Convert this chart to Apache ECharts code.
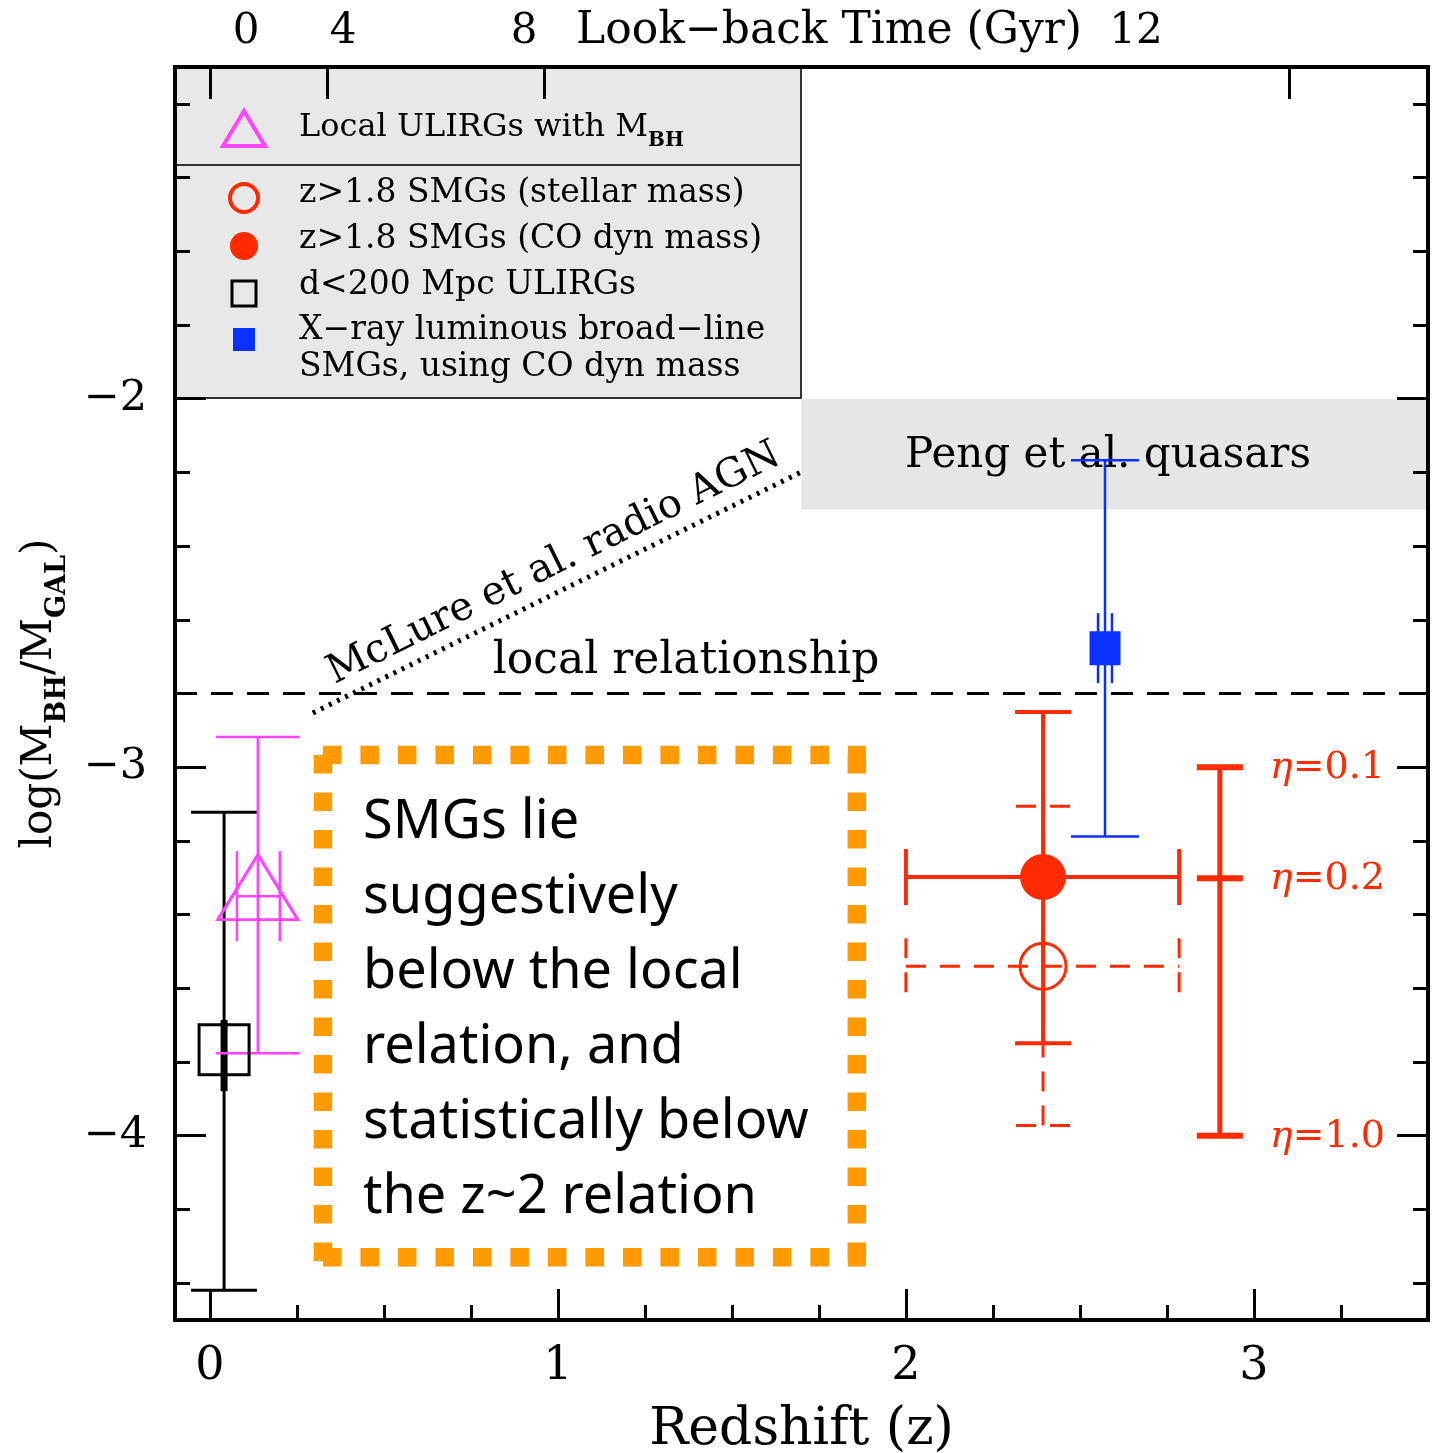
<!DOCTYPE html>
<html>
<head>
<meta charset="utf-8">
<title>Black hole to galaxy mass ratio versus redshift</title>
<script src="https://cdn.jsdelivr.net/npm/echarts@6/dist/echarts.min.js"></script>
<style>
  html, body { margin: 0; padding: 0; background: #ffffff; }
  #chart { width: 1435px; height: 1453px; }
</style>
</head>
<body>
<div id="chart"></div>
<script>
// ---------------- axis ticks ----------------
const zMajorTicks = [0, 1, 2, 3];
const zMinorTicks = [0.25, 0.5, 0.75, 1.25, 1.5, 1.75, 2.25, 2.5, 2.75, 3.25];
const yMajorTicks = [-4, -3, -2];
const yMinorTicks = [-4.4, -4.2, -3.8, -3.6, -3.4, -3.2, -2.8, -2.6, -2.4, -2.2, -1.8, -1.6, -1.4, -1.2];
// look-back time (Gyr) and the redshift each tick sits at
const lookbackLabels = ['0', '4', '8', '12'];
const lookbackTickZ = [0, 0.337, 0.960, 3.101];

// ---------------- reference relations ----------------
const localRelation = -2.8;                       // log(M_BH/M_gal) of the local relation
const localLine = [[-0.1, localRelation], [3.5, localRelation]];
const mcLureLine = [[0.296, -2.853], [1.710, -2.194]];
const pengBand = [[1.7, -2.3, 3.5, -2.0]];        // z range, log ratio range
const smgBox = [[0.325, -2.967, 1.859, -4.330]];

// ---------------- measurements ----------------
// d<200 Mpc ULIRGs
const d200 = [[0.041, -3.767]];
const d200ErrY = [[0.041, -4.419, -3.122]];
const d200CoreErrY = [[0.041, -3.879, -3.686]];
// local ULIRGs with M_BH
const ulirgBH = [[0.138, -3.350]];
const ulirgBHErrY = [[0.138, -3.776, -2.918]];
const ulirgBHErrX = [[-3.350, 0.078, 0.201]];
// z>1.8 SMGs, CO dynamical mass
const smgCO = [[2.394, -3.298]];
const smgCOErrY = [[2.394, -3.749, -2.850]];
const smgCOErrX = [[-3.298, 2.0, 2.785]];
// z>1.8 SMGs, stellar mass
const smgStellar = [[2.394, -3.540]];
const smgStellarErrY = [[2.394, -3.972, -3.106]];
const smgStellarErrX = [[-3.540, 2.0, 2.785]];
// X-ray luminous broad-line SMGs
const xray = [[2.572, -2.677]];
const xrayErrY = [[2.572, -3.188, -2.167]];
const xrayErrX = [[-2.677, 2.552, 2.592]];
// radiative efficiency scale
const etaZ = 2.902;
const etaValues = [-3.0, -3.301, -4.0];
const etaLabels = ['0.1', '0.2', '1.0'];
const etaRange = [[etaZ, -4.0, -3.0]];

// ---------------- styling ----------------
const SERIF = '"DejaVu Serif", serif';
const HAND = '"Noto Sans", sans-serif';
const RED = '#ff2a00';
const BLUE = '#0a30ff';
const MAG = '#ff44ff';
const ORANGE = '#ff9a00';
const BLACK = '#000000';

const chart = echarts.init(document.getElementById('chart'), null, { renderer: 'canvas' });

function lineStyleOf(color, width, dash) {
  return { stroke: color, lineWidth: width, lineDash: dash || null, fill: null };
}

// vertical error bar: [x, low, high]
function vErr(data, color, width, cap, dash, z) {
  return {
    type: 'custom', data: data, z: z || 3, silent: true, clip: false,
    encode: { x: 0, y: [1, 2] },
    renderItem: function (params, api) {
      const x = api.value(0);
      const a = api.coord([x, api.value(1)]);
      const b = api.coord([x, api.value(2)]);
      const st = lineStyleOf(color, width, dash);
      const ch = [{ type: 'line', shape: { x1: a[0], y1: a[1], x2: b[0], y2: b[1] }, style: st }];
      if (cap) {
        ch.push({ type: 'line', shape: { x1: a[0] - cap, y1: a[1], x2: a[0] + cap, y2: a[1] }, style: st });
        ch.push({ type: 'line', shape: { x1: b[0] - cap, y1: b[1], x2: b[0] + cap, y2: b[1] }, style: st });
      }
      return { type: 'group', children: ch };
    }
  };
}

// horizontal error bar: [y, low, high]
function hErr(data, color, width, cap, dash, z) {
  return {
    type: 'custom', data: data, z: z || 3, silent: true, clip: false,
    encode: { y: 0, x: [1, 2] },
    renderItem: function (params, api) {
      const y = api.value(0);
      const a = api.coord([api.value(1), y]);
      const b = api.coord([api.value(2), y]);
      const st = lineStyleOf(color, width, dash);
      const ch = [{ type: 'line', shape: { x1: a[0], y1: a[1], x2: b[0], y2: b[1] }, style: st }];
      if (cap) {
        ch.push({ type: 'line', shape: { x1: a[0], y1: a[1] - cap, x2: a[0], y2: a[1] + cap }, style: st });
        ch.push({ type: 'line', shape: { x1: b[0], y1: b[1] - cap, x2: b[0], y2: b[1] + cap }, style: st });
      }
      return { type: 'group', children: ch };
    }
  };
}

const tickLine = { color: BLACK, width: 3 };

const option = {
  backgroundColor: '#ffffff',
  animation: false,
  grid: {
    left: 175, top: 67, width: 1253, height: 1253,
    outerBoundsMode: 'none', containLabel: false,
    show: true, borderColor: BLACK, borderWidth: 4, backgroundColor: 'transparent'
  },
  xAxis: [
    {
      type: 'value', min: -0.1, max: 3.5, position: 'bottom',
      axisLine: { show: false, onZero: false },
      splitLine: { show: false },
      axisTick: { show: true, inside: true, length: 31, customValues: zMajorTicks, lineStyle: tickLine },
      axisLabel: {
        show: true, customValues: zMajorTicks, margin: 24,
        fontFamily: SERIF, fontSize: 46, color: BLACK,
        formatter: function (v) { return String(v); }
      },
      name: 'Redshift (z)', nameLocation: 'middle', nameGap: 84,
      nameTextStyle: { fontFamily: SERIF, fontSize: 52, color: BLACK }
    },
    {
      type: 'value', min: -0.1, max: 3.5, position: 'bottom',
      axisLine: { show: false, onZero: false },
      splitLine: { show: false },
      axisTick: { show: true, inside: true, length: 15, customValues: zMinorTicks, lineStyle: tickLine },
      axisLabel: { show: false }
    },
    {
      type: 'value', min: -0.1, max: 3.5, position: 'top',
      axisLine: { show: false, onZero: false },
      splitLine: { show: false },
      axisTick: { show: true, inside: true, length: 32, customValues: lookbackTickZ, lineStyle: tickLine },
      axisLabel: { show: false }
    }
  ],
  yAxis: [
    {
      type: 'value', min: -4.5, max: -1.1, position: 'left',
      axisLine: { show: false, onZero: false },
      splitLine: { show: false },
      axisTick: { show: true, inside: true, length: 31, customValues: yMajorTicks, lineStyle: tickLine },
      axisLabel: {
        show: true, customValues: yMajorTicks, margin: 28,
        fontFamily: SERIF, fontSize: 43, color: BLACK,
        formatter: function (v) { return '\u2212' + Math.abs(v); }
      },
      name: '{m|log(M}{s|BH}{m|/M}{s|GAL}{m|)}',
      nameLocation: 'middle', nameRotate: 90, nameGap: 104,
      nameTextStyle: {
        rich: {
          m: { fontFamily: SERIF, fontSize: 42, color: BLACK, verticalAlign: 'bottom', padding: [0, 0, 10, 0] },
          s: { fontFamily: SERIF, fontSize: 27, color: BLACK, fontWeight: 'bold', verticalAlign: 'bottom' }
        }
      }
    },
    {
      type: 'value', min: -4.5, max: -1.1, position: 'left',
      axisLine: { show: false, onZero: false },
      splitLine: { show: false },
      axisTick: { show: true, inside: true, length: 15, customValues: yMinorTicks, lineStyle: tickLine },
      axisLabel: { show: false }
    },
    {
      type: 'value', min: -4.5, max: -1.1, position: 'right',
      axisLine: { show: false, onZero: false },
      splitLine: { show: false },
      axisTick: { show: true, inside: true, length: 31, customValues: yMajorTicks, lineStyle: tickLine },
      axisLabel: { show: false }
    },
    {
      type: 'value', min: -4.5, max: -1.1, position: 'right',
      axisLine: { show: false, onZero: false },
      splitLine: { show: false },
      axisTick: { show: true, inside: true, length: 15, customValues: yMinorTicks, lineStyle: tickLine },
      axisLabel: { show: false }
    }
  ],
  graphic: [
    // legend panel
    { type: 'rect', z: -5, shape: { x: 175, y: 67, width: 626, height: 331 },
      style: { fill: '#e8e8e8', stroke: '#333333', lineWidth: 2 } },
    { type: 'line', z: -4, shape: { x1: 175, y1: 165, x2: 801, y2: 165 },
      style: { stroke: '#333333', lineWidth: 2 } },
    { type: 'polygon', z: 10, shape: { points: [[244, 111], [223, 146], [265, 146]] },
      style: { fill: null, stroke: MAG, lineWidth: 4 } },
    { type: 'circle', z: 10, shape: { cx: 244, cy: 198, r: 14 },
      style: { fill: null, stroke: RED, lineWidth: 4 } },
    { type: 'circle', z: 10, shape: { cx: 244, cy: 246, r: 14 },
      style: { fill: RED } },
    { type: 'rect', z: 10, shape: { x: 232, y: 281, width: 24, height: 25 },
      style: { fill: null, stroke: BLACK, lineWidth: 3 } },
    { type: 'rect', z: 10, shape: { x: 233, y: 328, width: 22, height: 23 },
      style: { fill: BLUE } },
    { type: 'text', z: 10, x: 299, y: 131, style: {
        text: '{m|Local ULIRGs with M}{s|BH}', verticalAlign: 'middle',
        rich: {
          m: { fontFamily: SERIF, fontSize: 32, fill: BLACK, verticalAlign: 'bottom', padding: [0, 0, 7, 0] },
          s: { fontFamily: SERIF, fontSize: 20, fill: BLACK, fontWeight: 'bold', verticalAlign: 'bottom' }
        } } },
    { type: 'text', z: 10, x: 299, y: 193, style: { text: 'z>1.8 SMGs (stellar mass)', font: '33px ' + SERIF, fill: BLACK, verticalAlign: 'middle' } },
    { type: 'text', z: 10, x: 299, y: 239, style: { text: 'z>1.8 SMGs (CO dyn mass)', font: '33px ' + SERIF, fill: BLACK, verticalAlign: 'middle' } },
    { type: 'text', z: 10, x: 299, y: 285, style: { text: 'd<200 Mpc ULIRGs', font: '33px ' + SERIF, fill: BLACK, verticalAlign: 'middle' } },
    { type: 'text', z: 10, x: 299, y: 330, style: { text: 'X\u2212ray luminous broad\u2212line', font: '33px ' + SERIF, fill: BLACK, verticalAlign: 'middle' } },
    { type: 'text', z: 10, x: 299, y: 367, style: { text: 'SMGs, using CO dyn mass', font: '33px ' + SERIF, fill: BLACK, verticalAlign: 'middle' } },

    // look-back time scale along the top
    { type: 'text', x: 246, y: 32, style: { text: lookbackLabels[0], font: '42px ' + SERIF, fill: BLACK, align: 'center', verticalAlign: 'middle' } },
    { type: 'text', x: 343, y: 32, style: { text: lookbackLabels[1], font: '42px ' + SERIF, fill: BLACK, align: 'center', verticalAlign: 'middle' } },
    { type: 'text', x: 524, y: 32, style: { text: lookbackLabels[2], font: '42px ' + SERIF, fill: BLACK, align: 'center', verticalAlign: 'middle' } },
    { type: 'text', x: 829, y: 32, style: { text: 'Look\u2212back Time (Gyr)', font: '44px ' + SERIF, fill: BLACK, align: 'center', verticalAlign: 'middle' } },
    { type: 'text', x: 1136, y: 32, style: { text: lookbackLabels[3], font: '42px ' + SERIF, fill: BLACK, align: 'center', verticalAlign: 'middle' } },

    // annotations
    { type: 'text', z: 2, x: 1108, y: 456, style: { text: 'Peng et al. quasars', font: '42px ' + SERIF, fill: BLACK, align: 'center', verticalAlign: 'middle' } },
    { type: 'text', z: 2, x: 686, y: 662, style: { text: 'local relationship', font: '44px ' + SERIF, fill: BLACK, align: 'center', verticalAlign: 'middle' } },
    { type: 'text', z: 2, x: 554, y: 564, rotation: 26.3 * Math.PI / 180, originX: 0, originY: 0,
      style: { text: 'McLure et al. radio AGN', font: '40px ' + SERIF, fill: BLACK, align: 'center', verticalAlign: 'middle' } },
    { type: 'text', z: 2, x: 363, y: 785, style: {
        text: 'SMGs lie\nsuggestively\nbelow the local\nrelation, and\nstatistically below\nthe z~2 relation',
        font: '54px ' + HAND, lineHeight: 75, fill: BLACK, align: 'left', verticalAlign: 'top' } }
  ],
  series: [
    // shaded region of the Peng et al. quasars
    {
      type: 'custom', data: pengBand, z: -1, silent: true,
      encode: { x: [0, 2], y: [1, 3] },
      renderItem: function (params, api) {
        const a = api.coord([api.value(0), api.value(3)]);
        const b = api.coord([api.value(2), api.value(1)]);
        return { type: 'rect', shape: { x: a[0], y: a[1], width: b[0] - a[0], height: b[1] - a[1] },
          style: { fill: '#e6e6e6' } };
      }
    },
    // local relationship
    {
      type: 'line', data: localLine, symbol: 'none', silent: true, z: 1,
      lineStyle: { color: BLACK, width: 3, type: [22, 14] }
    },
    // McLure et al. radio AGN
    {
      type: 'line', data: mcLureLine, symbol: 'none', silent: true, z: 1,
      lineStyle: { color: BLACK, width: 5, type: [3, 6] }
    },
    // dotted orange frame around the note
    {
      type: 'custom', data: smgBox, z: 2, silent: true,
      encode: { x: [0, 2], y: [1, 3] },
      renderItem: function (params, api) {
        const tl = api.coord([api.value(0), api.value(1)]);
        const br = api.coord([api.value(2), api.value(3)]);
        const st = { stroke: ORANGE, lineWidth: 18.5, lineDash: [18.5, 19], fill: null };
        const edges = [
          [tl[0], tl[1], br[0] + 9, tl[1]],
          [tl[0], tl[1], tl[0], br[1] + 9],
          [br[0], tl[1], br[0], br[1] + 9],
          [tl[0], br[1], br[0] + 9, br[1]]
        ];
        return { type: 'group', children: edges.map(function (e) {
          return { type: 'line', shape: { x1: e[0], y1: e[1], x2: e[2], y2: e[3] }, style: st };
        }) };
      }
    },

    // d<200 Mpc ULIRGs
    vErr(d200ErrY, BLACK, 3, 33),
    vErr(d200CoreErrY, BLACK, 7, 0),
    {
      type: 'scatter', data: d200, symbol: 'rect', symbolSize: 50, z: 5, silent: true,
      itemStyle: { color: 'rgba(0,0,0,0)', borderColor: BLACK, borderWidth: 3, opacity: 1 }
    },

    // local ULIRGs with M_BH
    vErr(ulirgBHErrY, MAG, 2.5, 42),
    hErr(ulirgBHErrX, MAG, 2.5, 45),
    {
      type: 'scatter', data: ulirgBH, symbol: 'triangle', symbolSize: [80, 65], symbolOffset: [0, -9],
      z: 5, silent: true,
      itemStyle: { color: 'rgba(0,0,0,0)', borderColor: MAG, borderWidth: 3, opacity: 1 }
    },

    // z>1.8 SMGs, stellar mass (dashed)
    vErr(smgStellarErrY, RED, 3, 27, [20, 14]),
    hErr(smgStellarErrX, RED, 3, 28, [20, 14]),
    {
      type: 'scatter', data: smgStellar, symbol: 'circle', symbolSize: 46, z: 5, silent: true,
      itemStyle: { color: 'rgba(0,0,0,0)', borderColor: RED, borderWidth: 3, opacity: 1 }
    },

    // z>1.8 SMGs, CO dynamical mass
    vErr(smgCOErrY, RED, 4, 28),
    hErr(smgCOErrX, RED, 4, 28),
    {
      type: 'scatter', data: smgCO, symbol: 'circle', symbolSize: 46, z: 5, silent: true,
      itemStyle: { color: RED, opacity: 1 }
    },

    // X-ray luminous broad-line SMGs
    vErr(xrayErrY, BLUE, 2.5, 34),
    hErr(xrayErrX, BLUE, 2.5, 35),
    {
      type: 'scatter', data: xray, symbol: 'rect', symbolSize: [31, 34], z: 5, silent: true,
      itemStyle: { color: BLUE, opacity: 1 }
    },

    // radiative efficiency scale
    vErr(etaRange, RED, 5, 0),
    {
      type: 'custom', silent: true, z: 4, clip: false,
      data: etaValues.map(function (v) { return [etaZ, v]; }),
      encode: { x: 0, y: 1 },
      renderItem: function (params, api) {
        const p = api.coord([api.value(0), api.value(1)]);
        return { type: 'group', children: [
          { type: 'line', shape: { x1: p[0] - 23, y1: p[1], x2: p[0] + 23, y2: p[1] },
            style: { stroke: RED, lineWidth: 6 } },
          { type: 'text', x: p[0] + 50, y: p[1] + 1, style: {
              text: '{e|\u03b7}{n|=' + etaLabels[params.dataIndex] + '}',
              align: 'left', verticalAlign: 'middle',
              rich: {
                e: { fontFamily: SERIF, fontStyle: 'italic', fontSize: 38, fill: RED },
                n: { fontFamily: SERIF, fontSize: 38, fill: RED }
              } } }
        ] };
      }
    }
  ]
};

chart.setOption(option);
</script>
</body>
</html>
